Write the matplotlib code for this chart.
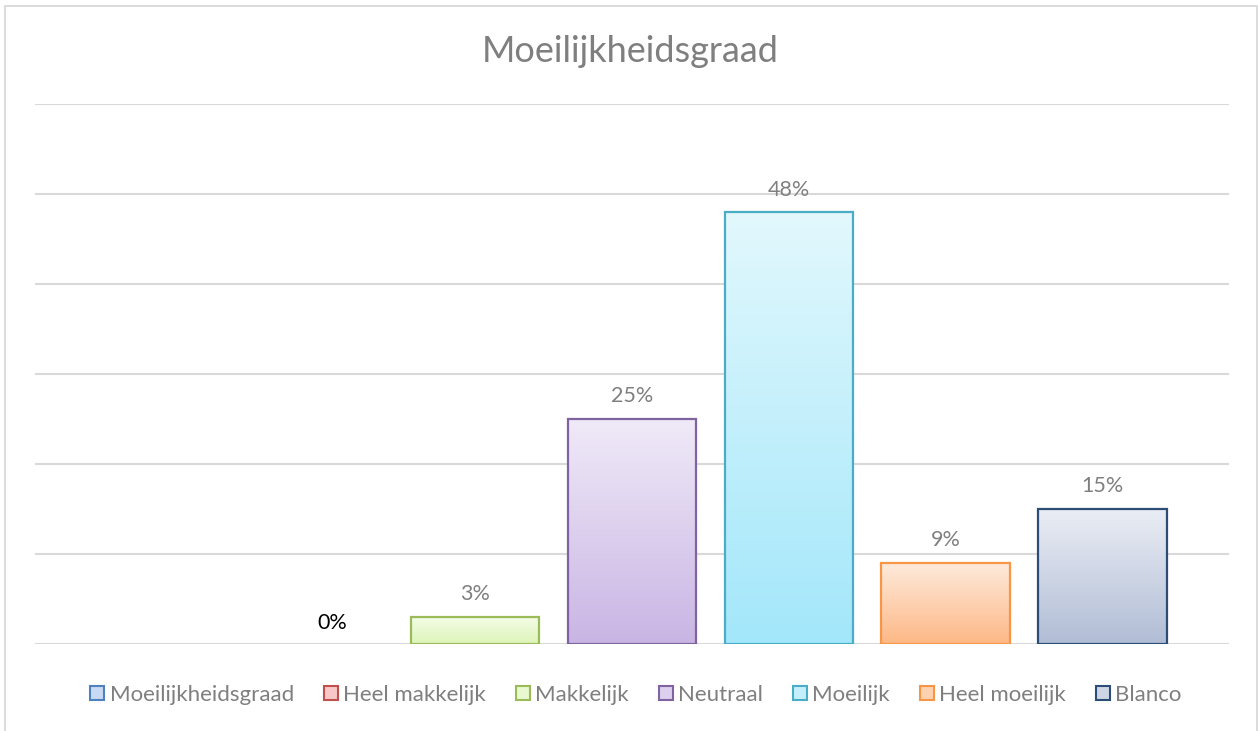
import numpy as np
import matplotlib
matplotlib.use("Agg")
import matplotlib.pyplot as plt
from matplotlib.colors import to_rgb
from matplotlib.patches import Patch, Rectangle

# ================= Data =================
TITLE = "Moeilijkheidsgraad"
series = ["Moeilijkheidsgraad", "Heel makkelijk", "Makkelijk", "Neutraal",
          "Moeilijk", "Heel moeilijk", "Blanco"]
values = [None, 0, 3, 25, 48, 9, 15]   # percent, None = no value

# edge colour, gradient top, gradient bottom
edge_colors = ["#4F81BD", "#C0504D", "#9BBB59", "#8064A2", "#4BACC6", "#F79646", "#2C4D75"]
top_colors = ["#E1EAFA", "#FBE0E0", "#F3FCE6", "#F0EAF8", "#E2F8FD", "#FEEADB", "#EAEDF4"]
bottom_colors = ["#AFC7EE", "#F3AFAE", "#DDF5B8", "#C9B5E4", "#A3E7FA", "#FDB886", "#B1BDD6"]

GRID = "#D9D9D9"
TEXT = "#7F7F7F"
plt.rcParams['font.family'] = ['Lato', 'DejaVu Sans']

W, H = 1258, 731
fig = plt.figure(figsize=(W / 100, H / 100), dpi=100)
fig.patch.set_facecolor("white")

# outer chart border
fig.patches.append(Rectangle((5 / W, -0.05), 1252 / W, 1 - 6 / H + 0.05,
                             transform=fig.transFigure, fill=False,
                             edgecolor=GRID, linewidth=1.3))

ax = fig.add_axes([35 / W, 1 - 644 / H, 1194 / W, 540 / H])
x = np.arange(len(series))
bar_w = 0.82

for spine in ax.spines.values():
    spine.set_visible(False)
ax.set_yticks(np.arange(0, 61, 10))
ax.yaxis.grid(True, color=GRID, linewidth=1.5)
ax.set_axisbelow(True)
ax.tick_params(left=False, bottom=False, labelleft=False, labelbottom=False)

for i, v in enumerate(values):
    if v is None:
        continue
    if v > 0:
        bar = ax.bar(x[i], v, width=bar_w, facecolor="none",
                     edgecolor=edge_colors[i], linewidth=1.6, zorder=3)[0]
        # vertical gradient fill inside the bar
        c0 = np.array(to_rgb(top_colors[i]))
        c1 = np.array(to_rgb(bottom_colors[i]))
        t = np.linspace(0, 1, 256)[:, None]
        grad = (c0 * (1 - t) + c1 * t)[:, None, :]
        ax.imshow(grad, extent=(bar.get_x(), bar.get_x() + bar.get_width(), 0, v),
                  aspect="auto", origin="upper", zorder=2, interpolation="bilinear")
        ax.annotate(f"{v}%", (x[i], v), xytext=(0, 9), textcoords="offset points",
                    ha="center", va="bottom", fontsize=15.5, color=TEXT)
    else:
        ax.annotate(f"{v}%", (x[i], v), xytext=(10, 8), textcoords="offset points",
                    ha="center", va="bottom", fontsize=15.5, color="black")

ax.set_xlim(-0.807, 6.807)
ax.set_ylim(0, 60)

fig.text(630 / W, 1 - 51 / H, TITLE, ha="center", va="center",
         fontsize=26, color=TEXT)

handles = [Patch(facecolor=(np.array(to_rgb(a)) + np.array(to_rgb(b))) / 2,
                 edgecolor=e, linewidth=1.5)
           for a, b, e in zip(top_colors, bottom_colors, edge_colors)]
leg = fig.legend(handles, series, loc="center", bbox_to_anchor=(636 / W, 1 - 695 / H),
                 ncol=len(series), frameon=False, fontsize=16, handlelength=0.62,
                 handleheight=0.62, handletextpad=0.25, columnspacing=1.35,
                 borderaxespad=0)
for t in leg.get_texts():
    t.set_color(TEXT)

fig.savefig("out.png", dpi=100, facecolor="white")
